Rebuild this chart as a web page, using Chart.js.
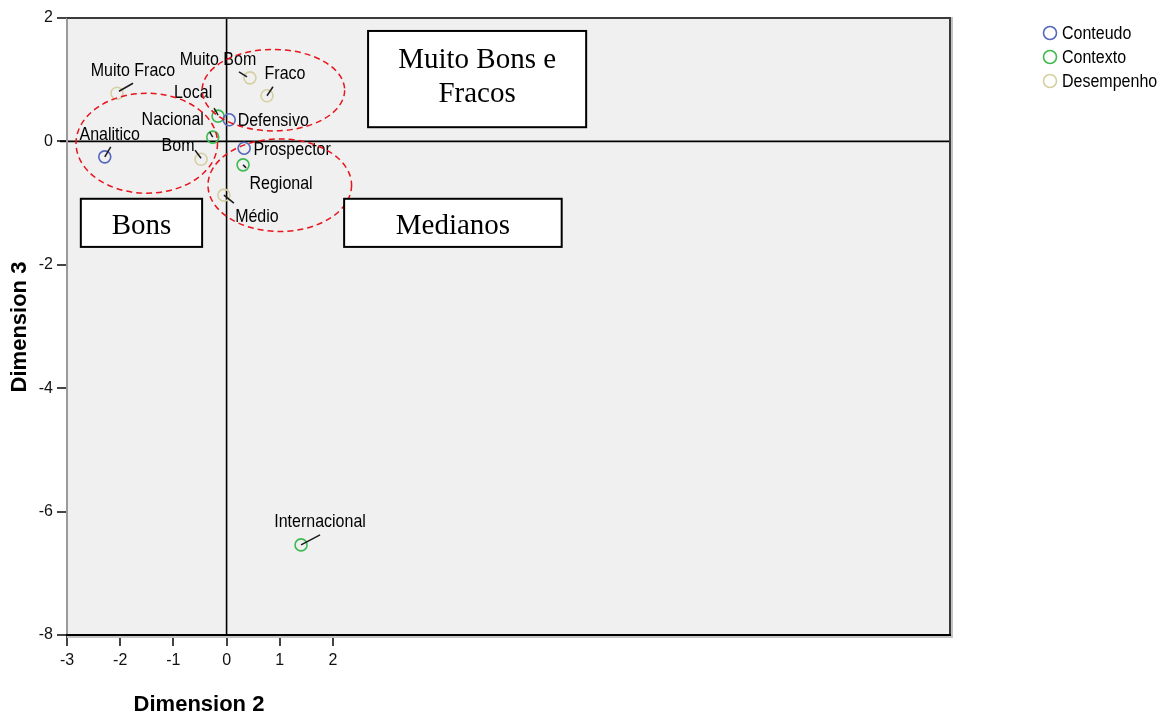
<!DOCTYPE html>
<html>
<head>
<meta charset="utf-8">
<script src="https://cdn.jsdelivr.net/npm/chart.js@4.4.1/dist/chart.umd.min.js"></script>
<style>
  html, body { margin: 0; padding: 0; background: #ffffff; }
  #wrap { width: 1163px; height: 715px; }
</style>
</head>
<body>
<div id="wrap"><canvas id="c" width="1163" height="715"></canvas></div>
<script>
// Category coordinates on Dimension 2 (x) and Dimension 3 (y)
const conteudoLabels = ['Analitico', 'Defensivo', 'Prospector'];
const conteudoX = [-2.29, 0.05, 0.33];
const conteudoY = [-0.25, 0.35, -0.11];

const contextoLabels = ['Local', 'Nacional', 'Regional', 'Internacional'];
const contextoX = [-0.16, -0.26, 0.31, 1.40];
const contextoY = [0.41, 0.07, -0.38, -6.54];

const desempenhoLabels = ['Muito Fraco', 'Muito Bom', 'Fraco', 'Bom', 'Médio'];
const desempenhoX = [-2.06, 0.44, 0.76, -0.48, -0.05];
const desempenhoY = [0.78, 1.03, 0.74, -0.29, -0.87];

const seriesNames = ['Conteudo', 'Contexto', 'Desempenho'];
const xTicks = [-3, -2, -1, 0, 1, 2];
const yTicks = [2, 0, -2, -4, -6, -8];

// Group annotations: dashed ellipses (centre, radii in axis units) and text boxes
const groupEllipses = [
  { cx: -1.50, cy: -0.03, rx: 1.33, ry: 0.81 },
  { cx: 0.88, cy: 0.83, rx: 1.34, ry: 0.66 },
  { cx: 1.00, cy: -0.71, rx: 1.35, ry: 0.75 }
];
const groupBoxes = [
  { x1: 2.66, x2: 6.76, y1: 1.79, y2: 0.23, lines: ['Muito Bons e', 'Fracos'], shift: -2 },
  { x1: -2.74, x2: -0.46, y1: -0.93, y2: -1.71, lines: ['Bons'], shift: 4 },
  { x1: 2.21, x2: 6.30, y1: -0.93, y2: -1.71, lines: ['Medianos'], shift: 4 }
];

// Point label placement (pixel offsets from the marker) and leader segments
const labelPlacement = {
  'Analitico':     { dx: 5,   dy: -22, lead: [0, 0, 6, -10] },
  'Defensivo':     { dx: 44,  dy: 1,   lead: null },
  'Prospector':    { dx: 48,  dy: 2,   lead: null },
  'Local':         { dx: -25, dy: -23, lead: [-4, -8, 0, -1] },
  'Nacional':      { dx: -40, dy: -17, lead: [-3, -5, 0, 0] },
  'Regional':      { dx: 38,  dy: 19,  lead: [0, 0, 3, 3] },
  'Internacional': { dx: 19,  dy: -23, lead: [0, 0, 19, -10] },
  'Muito Fraco':   { dx: 16,  dy: -22, lead: [2, -2, 16, -10] },
  'Muito Bom':     { dx: -32, dy: -18, lead: [-11, -6, -3, -1] },
  'Fraco':         { dx: 18,  dy: -22, lead: [0, 0, 6, -9] },
  'Bom':           { dx: -23, dy: -13, lead: [-6, -9, 0, -1] },
  'Médio':         { dx: 33,  dy: 22,  lead: [0, 0, 10, 8] }
};

const seriesColors = ['#5468bc', '#3dba4e', '#d5cfa2'];

function points(xs, ys, names) {
  return xs.map((x, i) => ({ x: x, y: ys[i], name: names[i] }));
}

const datasets = [
  { label: seriesNames[0], data: points(conteudoX, conteudoY, conteudoLabels) },
  { label: seriesNames[1], data: points(contextoX, contextoY, contextoLabels) },
  { label: seriesNames[2], data: points(desempenhoX, desempenhoY, desempenhoLabels) }
].map((d, i) => Object.assign(d, {
  pointStyle: 'circle',
  pointRadius: 6,
  pointHoverRadius: 6,
  pointBorderWidth: 1.6,
  borderColor: seriesColors[i],
  pointBorderColor: seriesColors[i],
  backgroundColor: 'rgba(0,0,0,0)',
  pointBackgroundColor: 'rgba(0,0,0,0)',
  showLine: false
}));

const SANS = '"Liberation Sans", Arial, sans-serif';
const SERIF = '"Liberation Serif", "Times New Roman", serif';

function stretchedText(ctx, text, x, y, font, sy) {
  ctx.save();
  ctx.translate(x, y);
  ctx.scale(1, sy);
  ctx.font = font;
  ctx.fillText(text, 0, 0);
  ctx.restore();
}

const decorations = {
  id: 'decorations',
  beforeDraw(chart) {
    const { ctx, chartArea: a } = chart;
    ctx.save();
    ctx.fillStyle = '#f0f0f0';
    ctx.fillRect(a.left, a.top, a.right - a.left, a.bottom - a.top);
    ctx.restore();
  },
  beforeDatasetsDraw(chart) {
    const { ctx, chartArea: a, scales } = chart;
    const x0 = scales.x.getPixelForValue(0);
    const y0 = scales.y.getPixelForValue(0);
    ctx.save();
    ctx.strokeStyle = '#000';
    ctx.lineWidth = 1.6;
    ctx.beginPath();
    ctx.moveTo(a.left - 7, y0);
    ctx.lineTo(a.right, y0);
    ctx.moveTo(x0, a.top);
    ctx.lineTo(x0, a.bottom);
    ctx.stroke();
    ctx.restore();
  },
  afterDatasetsDraw(chart) {
    const { ctx, scales } = chart;
    const sx = scales.x, sy = scales.y;
    ctx.save();
    // leader lines and point labels
    chart.data.datasets.forEach(ds => {
      ds.data.forEach(p => {
        const px = sx.getPixelForValue(p.x);
        const py = sy.getPixelForValue(p.y);
        const pl = labelPlacement[p.name];
        if (pl.lead) {
          ctx.strokeStyle = '#1a1a1a';
          ctx.lineWidth = 1.5;
          ctx.beginPath();
          ctx.moveTo(px + pl.lead[0], py + pl.lead[1]);
          ctx.lineTo(px + pl.lead[2], py + pl.lead[3]);
          ctx.stroke();
        }
        ctx.fillStyle = '#000';
        ctx.textAlign = 'center';
        ctx.textBaseline = 'middle';
        stretchedText(ctx, p.name, px + pl.dx, py + pl.dy, '16px ' + SANS, 1.12);
      });
    });
    // dashed group ellipses
    ctx.strokeStyle = '#e8141c';
    ctx.lineWidth = 1.5;
    ctx.setLineDash([6, 4]);
    groupEllipses.forEach(e => {
      const cx = sx.getPixelForValue(e.cx), cy = sy.getPixelForValue(e.cy);
      const rx = Math.abs(sx.getPixelForValue(e.cx + e.rx) - cx);
      const ry = Math.abs(sy.getPixelForValue(e.cy + e.ry) - cy);
      ctx.beginPath();
      ctx.ellipse(cx, cy, rx, ry, 0, 0, Math.PI * 2);
      ctx.stroke();
    });
    ctx.setLineDash([]);
    // labelled group boxes
    groupBoxes.forEach(b => {
      const l = sx.getPixelForValue(b.x1), r = sx.getPixelForValue(b.x2);
      const t = sy.getPixelForValue(b.y1), btm = sy.getPixelForValue(b.y2);
      ctx.fillStyle = '#ffffff';
      ctx.fillRect(l, t, r - l, btm - t);
      ctx.strokeStyle = '#000';
      ctx.lineWidth = 2;
      ctx.strokeRect(l, t, r - l, btm - t);
      ctx.fillStyle = '#000';
      ctx.font = '29px ' + SERIF;
      ctx.textAlign = 'center';
      ctx.textBaseline = 'middle';
      const cx = (l + r) / 2, cy = (t + btm) / 2 + b.shift;
      const lh = 34;
      b.lines.forEach((txt, i) => {
        ctx.fillText(txt, cx, cy + (i - (b.lines.length - 1) / 2) * lh);
      });
    });
    ctx.restore();
  },
  afterDraw(chart) {
    const { ctx, chartArea: a } = chart;
    ctx.save();
    // plot frame with a soft shadow on the right and bottom
    ctx.strokeStyle = '#c4c4c4';
    ctx.lineWidth = 2;
    ctx.beginPath();
    ctx.moveTo(a.right + 2, a.top - 1);
    ctx.lineTo(a.right + 2, a.bottom + 2);
    ctx.lineTo(a.left, a.bottom + 2);
    ctx.stroke();
    ctx.strokeStyle = '#9a9a9a';
    ctx.beginPath();
    ctx.moveTo(a.left, a.top);
    ctx.lineTo(a.left, a.bottom);
    ctx.stroke();
    ctx.strokeStyle = '#3a3a3a';
    ctx.beginPath();
    ctx.moveTo(a.left, a.top);
    ctx.lineTo(a.right, a.top);
    ctx.lineTo(a.right, a.bottom);
    ctx.stroke();
    ctx.strokeStyle = '#000';
    ctx.beginPath();
    ctx.moveTo(a.left - 1, a.bottom);
    ctx.lineTo(a.right + 1, a.bottom);
    ctx.stroke();

    // axis titles
    ctx.fillStyle = '#000';
    ctx.textAlign = 'center';
    ctx.textBaseline = 'middle';
    ctx.font = 'bold 22px ' + SANS;
    ctx.fillText('Dimension 2', 199, 705);
    ctx.save();
    ctx.translate(20, 327);
    ctx.rotate(-Math.PI / 2);
    ctx.fillText('Dimension 3', 0, 0);
    ctx.restore();

    // legend
    ctx.textAlign = 'left';
    chart.data.datasets.forEach((ds, i) => {
      const y = 33 + i * 24;
      ctx.strokeStyle = seriesColors[i];
      ctx.lineWidth = 1.6;
      ctx.beginPath();
      ctx.arc(1050, y, 6.5, 0, Math.PI * 2);
      ctx.stroke();
      ctx.fillStyle = '#000';
      stretchedText(ctx, ds.label, 1062, y + 1, '16px ' + SANS, 1.1);
    });
    ctx.restore();
  }
};

new Chart(document.getElementById('c'), {
  type: 'scatter',
  data: { datasets: datasets },
  options: {
    responsive: false,
    devicePixelRatio: 1,
    animation: false,
    events: [],
    layout: { padding: { top: 18, right: 213, left: 0, bottom: 0 } },
    plugins: { legend: { display: false }, tooltip: { enabled: false } },
    scales: {
      x: {
        type: 'linear',
        min: -3,
        max: 13.6,
        afterBuildTicks(scale) { scale.ticks = xTicks.map(v => ({ value: v })); },
        afterFit(scale) { scale.height = 80; },
        border: { display: false },
        grid: { drawOnChartArea: false, drawTicks: true, tickLength: 11, color: '#444', lineWidth: 2 },
        ticks: { font: { size: 16, family: SANS }, color: '#111', padding: 5, maxRotation: 0, autoSkip: false }
      },
      y: {
        type: 'linear',
        min: -8,
        max: 2,
        afterBuildTicks(scale) { scale.ticks = yTicks.map(v => ({ value: v })); },
        afterFit(scale) { scale.width = 67; },
        border: { display: false },
        grid: { drawOnChartArea: false, drawTicks: true, tickLength: 10, color: '#444', lineWidth: 2 },
        ticks: { font: { size: 16, family: SANS }, color: '#111', padding: 4, autoSkip: false }
      }
    }
  },
  plugins: [decorations]
});
</script>
</body>
</html>
